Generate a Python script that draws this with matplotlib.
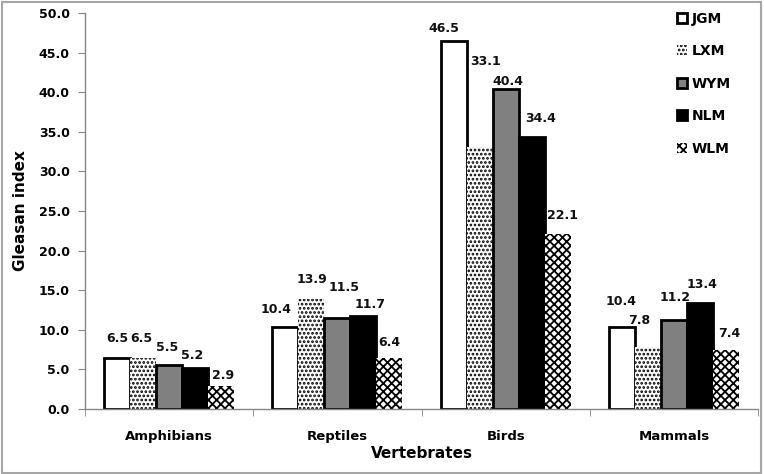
import matplotlib
matplotlib.use("Agg")
import matplotlib.pyplot as plt
import numpy as np
from matplotlib.patches import Rectangle

categories = ["Amphibians", "Reptiles", "Birds", "Mammals"]
series_names = ["JGM", "LXM", "WYM", "NLM", "WLM"]
jgm = [6.5, 10.4, 46.5, 10.4]
lxm = [6.5, 13.9, 33.1, 7.8]
wym = [5.5, 11.5, 40.4, 11.2]
nlm = [5.2, 11.7, 34.4, 13.4]
wlm = [2.9, 6.4, 22.1, 7.4]
yticks = [0, 5, 10, 15, 20, 25, 30, 35, 40, 45, 50]

# label offsets in pixels (dx, dy) from bar top centre, per series per category
label_offsets = [
    [(0, 19), (-9, 17), (-10, 12), (-1, 25)],
    [(-2, 19), (1, 19), (6, 85), (-9, 27)],
    [(-2, 18), (7, 30), (2, 8), (1, 23)],
    [(-3, 12), (7, 12), (9, 18), (2, 18)],
    [(2, 11), (0, 16), (5, 18), (3, 17)],
]

styles = [
    dict(facecolor="white", edgecolor="black", linewidth=2.0, hatch=None),
    dict(facecolor="white", edgecolor="black", linewidth=0, hatch="...."),
    dict(facecolor="#808080", edgecolor="black", linewidth=2.0, hatch=None),
    dict(facecolor="black", edgecolor="black", linewidth=2.0, hatch=None),
    dict(facecolor="white", edgecolor="black", linewidth=0, hatch="xxxx"),
]

plt.rcParams["font.family"] = ["DejaVu Sans"]
plt.rcParams["font.weight"] = "bold"
plt.rcParams["hatch.linewidth"] = 1.3

fig = plt.figure(figsize=(7.64, 4.74), dpi=100)
ax = fig.add_axes([85 / 764, 1 - 409 / 474, (758 - 85) / 764, (409 - 13) / 474])

x = np.arange(len(categories))
w = 26 / 168.25
data = [jgm, lxm, wym, nlm, wlm]
for i, (name, vals) in enumerate(zip(series_names, data)):
    st = styles[i]
    bars = ax.bar(x + (i - 2) * w, vals, width=w, label=name,
                  facecolor=st["facecolor"], edgecolor=st["edgecolor"],
                  linewidth=st["linewidth"], hatch=st["hatch"], zorder=2)
    for j, (b, v) in enumerate(zip(bars, vals)):
        dx, dy = label_offsets[i][j]
        ax.annotate(f"{v:.1f}", (b.get_x() + b.get_width() / 2, v),
                    xytext=(dx, dy), textcoords="offset pixels",
                    ha="center", va="center", fontsize=9, fontweight="bold",
                    color="#111111")

ax.set_xlim(-0.5, len(categories) - 0.5)
ax.set_ylim(0, 50)
ax.set_yticks(yticks)
ax.set_yticklabels([f"{t:.1f}" for t in yticks], fontsize=9, fontweight="bold")
ax.set_xticks(x)
ax.set_xticklabels(categories, fontsize=9.5, fontweight="bold")
ax.set_xticks(np.arange(-0.5, len(categories), 1.0), minor=True)
ax.tick_params(axis="x", which="major", length=0, pad=15)
ax.tick_params(axis="x", which="minor", length=5, color="#868686", direction="out")
ax.tick_params(axis="y", length=5, color="#868686", direction="out", pad=6)

for s in ["top", "right"]:
    ax.spines[s].set_visible(False)
for s in ["left", "bottom"]:
    ax.spines[s].set_color("#868686")
    ax.spines[s].set_linewidth(1.0)

ax.set_ylabel("Gleasan index", fontsize=11, fontweight="bold", labelpad=8)
ax.set_xlabel("Vertebrates", fontsize=11, fontweight="bold", labelpad=2)

leg = ax.legend(loc="upper left", bbox_to_anchor=(667 / 764, 1 - 2 / 474),
                bbox_transform=fig.transFigure, frameon=False,
                fontsize=10, handlelength=0.75, handleheight=0.75,
                handletextpad=0.35, labelspacing=1.33, borderpad=0.2)
for t in leg.get_texts():
    t.set_fontweight("bold")

fig.patches.append(Rectangle((0.002, 0.003), 0.994, 0.992, transform=fig.transFigure,
                             fill=False, edgecolor="#a6a6a6", linewidth=1.5))

fig.savefig("out.png", dpi=100)
